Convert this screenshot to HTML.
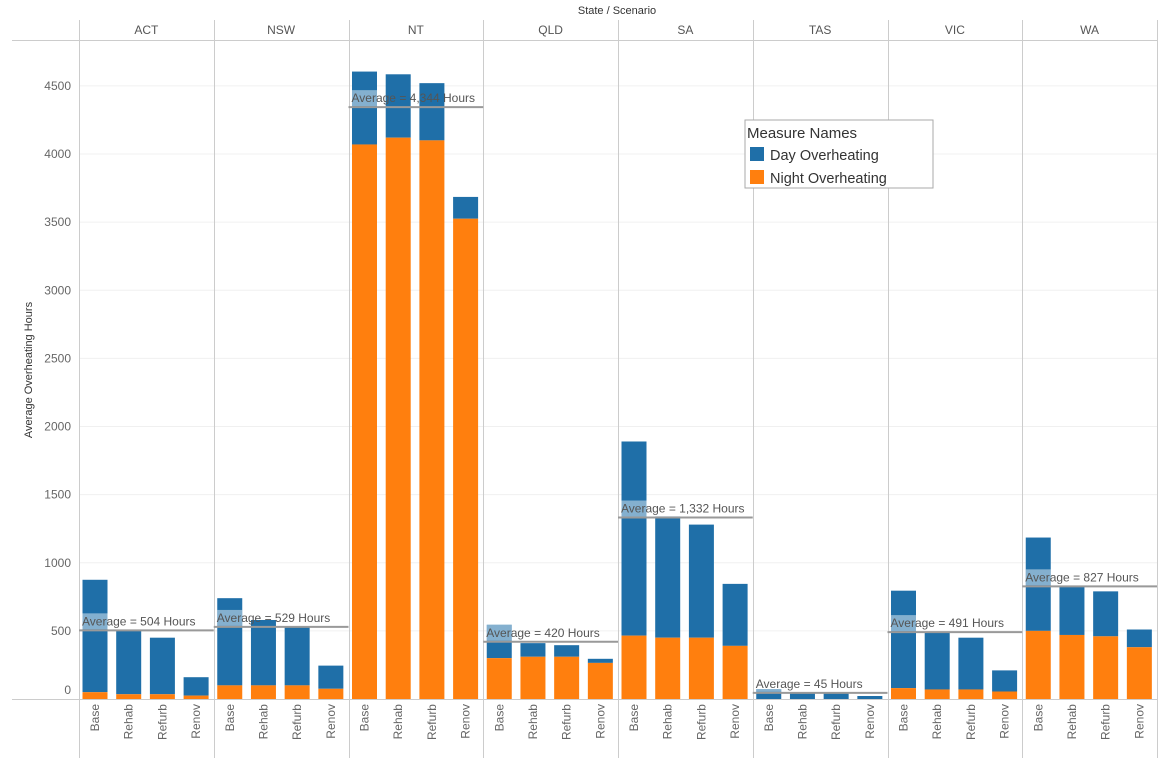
<!DOCTYPE html>
<html><head><meta charset="utf-8"><style>
html,body{margin:0;padding:0;background:#fff;}
svg{display:block;font-family:"Liberation Sans","DejaVu Sans",sans-serif;}
</style></head><body>
<svg id="chart" width="1169" height="771" viewBox="0 0 1169 771">
<text x="617" y="14" font-size="11" fill="#333" text-anchor="middle">State / Scenario</text>
<text transform="translate(32,370) rotate(-90)" font-size="11" fill="#333" text-anchor="middle">Average Overheating Hours</text>
<g id="grid"></g><g id="bars"></g><g id="avgs"></g>
<g>
<rect x="745" y="120" width="188" height="68" fill="#fff" stroke="#aaa"/>
<text x="747" y="138" font-size="15" fill="#333">Measure Names</text>
<g><rect x="750" y="147" width="14" height="14" fill="#1f6fa8"/><text x="770" y="160" font-size="14.5" fill="#333">Day Overheating</text></g>
<g><rect x="750" y="170" width="14" height="14" fill="#ff7f0e"/><text x="770" y="183" font-size="14.5" fill="#333">Night Overheating</text></g>
</g>
</svg>
<script>
const states = ["ACT","NSW","NT","QLD","SA","TAS","VIC","WA"];
const scenarios = ["Base","Rehab","Refurb","Renov"];
const totals = [[875,505,450,160],[740,580,535,245],[4605,4585,4520,3685],[545,410,395,295],[1890,1340,1280,845],[73,44,44,22],[795,490,450,210],[1185,830,790,510]];
const nights = [[50,35,35,25],[100,100,100,75],[4070,4120,4100,3525],[300,310,310,265],[465,450,450,390],[0,0,0,0],[80,70,70,55],[500,470,460,380]];
const averages = [504,529,4344,420,1332,45,491,827];
const avgLabels = ["504","529","4,344","420","1,332","45","491","827"];
const yTicks = [0,500,1000,1500,2000,2500,3000,3500,4000,4500];
const NS="http://www.w3.org/2000/svg";
const x0=79, pw=134.75, y0=699, k=0.13625;
const y=v=>y0-v*k;
const px=i=>x0+i*pw;
function mk(tag,attrs,parent){const e=document.createElementNS(NS,tag);for(const a in attrs)e.setAttribute(a,attrs[a]);parent.appendChild(e);return e;}
const grid=document.getElementById('grid'),bars=document.getElementById('bars'),avgs=document.getElementById('avgs');
yTicks.forEach(t=>{
  if(t>0){const l=mk('line',{x1:x0,x2:1157,y1:y(t),y2:y(t),stroke:'#f0f0f0'},grid);
  
  }
  const tx=mk('text',{x:71,y:(t===0?y(t)-5:y(t)+4),'font-size':12,fill:'#666','text-anchor':'end'},grid);
  tx.textContent=t;
  
  
});
mk('line',{x1:12,x2:1157,y1:40.5,y2:40.5,stroke:'#ccc'},grid);
mk('line',{x1:12,x2:1157,y1:y0+0.5,y2:y0+0.5,stroke:'#ccc'},grid);
for(let i=0;i<=8;i++){mk('line',{x1:Math.round(px(i))+0.5,x2:Math.round(px(i))+0.5,y1:20,y2:758,stroke:'#ccc'},grid);}
states.forEach((s,i)=>{
  const h=mk('text',{x:px(i)+pw/2,y:34,'font-size':12,fill:'#555','text-anchor':'middle'},grid);
  h.textContent=s;
  
  
  scenarios.forEach((sc,j)=>{
    const bx=px(i)+3.5+j*33.7, bw=25;
    const t=totals[i][j], n=nights[i][j];
    const d=mk('rect',{x:bx,y:y(t),width:bw,height:(t-n)*k,fill:'#1f6fa8'},bars);
    
    
    const nn=mk('rect',{x:bx,y:y(n),width:bw,height:n*k,fill:'#ff7f0e'},bars);
    
    
    const lb=mk('text',{transform:`translate(${bx+bw/2+4},704) rotate(-90)`,'font-size':12,fill:'#666','text-anchor':'end'},grid);
    lb.textContent=sc;
    
    
  });
  const ay=y(averages[i]);
  const hb=mk('rect',{x:px(i)+3.5,y:ay-17,width:25,height:16,fill:'#fff','fill-opacity':0.45},avgs);
  const al=mk('line',{x1:px(i),x2:px(i+1),y1:ay,y2:ay,stroke:'#999','stroke-width':2},avgs);
  
  
  const at=mk('text',{x:px(i)+3,y:ay-5,'font-size':12,fill:'#555'},avgs);
  at.textContent='Average = '+avgLabels[i]+' Hours';
  
  
});
</script>
</body></html>
